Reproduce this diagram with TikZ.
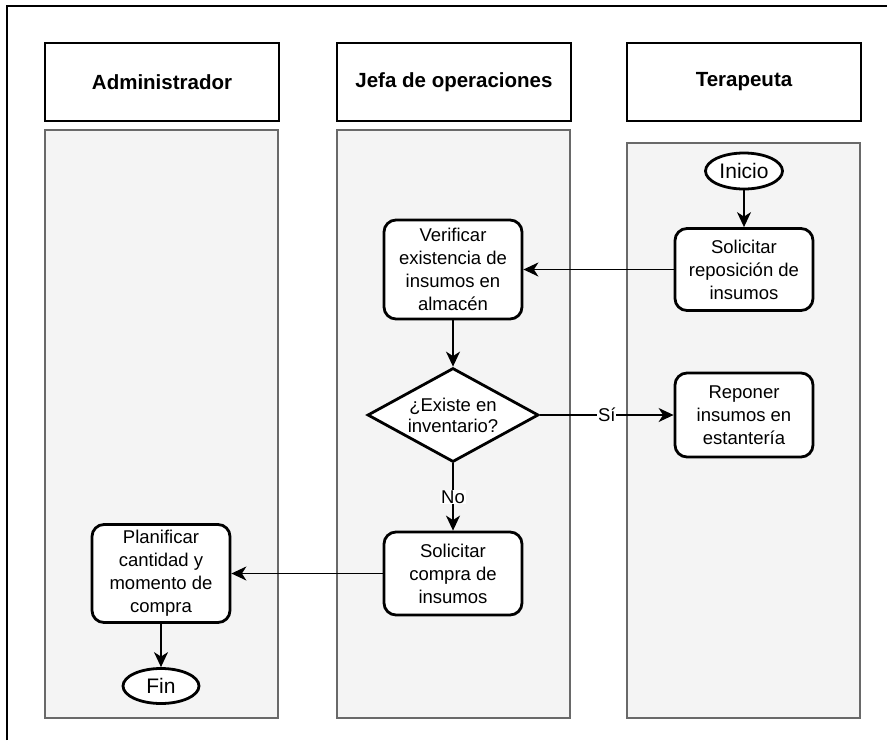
\documentclass[tikz,border=0pt]{standalone}
\usepackage{fontspec}
\setmainfont{Liberation Sans}
\usetikzlibrary{shapes.geometric,arrows.meta}
\definecolor{lanefill}{RGB}{244,244,244}
\definecolor{lanedraw}{RGB}{105,105,105}
\begin{document}
\begin{tikzpicture}[x=1pt,y=-1pt,
  lane/.style={draw=lanedraw, fill=lanefill, line width=1.5pt},
  header/.style={draw=black, fill=white, line width=1.6pt, minimum width=234pt, minimum height=78pt,
    font=\fontsize{20.5}{24}\selectfont\bfseries, inner sep=0pt},
  proc/.style={draw=black, fill=white, line width=2.8pt, rounded corners=12pt, minimum width=138pt,
    align=center, font=\fontsize{18.5}{23}\selectfont, inner sep=0pt},
  term/.style={draw=black, ellipse, fill=white, line width=2.8pt, inner sep=0pt,
    minimum width=77pt, minimum height=36pt, font=\fontsize{21}{24}\selectfont},
  dec/.style={draw=black, diamond, fill=white, line width=2.8pt, inner sep=0pt, aspect=1.82,
    minimum width=171pt, minimum height=94pt, align=center, font=\fontsize{18.5}{21}\selectfont},
  flow/.style={-{Stealth[length=15pt,width=14pt,inset=4.5pt]}, line width=1.6pt},
  lbl/.style={fill=white, inner sep=1pt, font=\fontsize{18.5}{22}\selectfont}
]
\useasboundingbox (0,0) rectangle (887,740);
% frame
\draw[line width=1.5pt] (7,740) -- (7,6) -- (887,6);
% lanes
\draw[lane] (45,130) rectangle (278,718);
\draw[lane] (337,130) rectangle (570,718);
\draw[lane] (627,143) rectangle (860,718);
% headers
\node[header] (hA) at (162,82) {Administrador};
\node[header] (hJ) at (454,82) {Jefa de operaciones};
\node[header] (hT) at (744,82) {Terapeuta};
% nodes
\node[term] (ini) at (744,171) {Inicio};
\node[proc, minimum height=82pt] (solrep) at (744,269.5) {Solicitar\\reposición de\\insumos};
\node[proc, minimum height=99pt] (verif) at (453,269.5) {Verificar\\existencia de\\insumos en\\almacén};
\node[dec] (dec) at (453,415) {¿Existe en\\inventario?};
\node[proc, minimum height=84pt] (repo) at (744,415) {Reponer\\insumos en\\estantería};
\node[proc, minimum height=83pt] (solcom) at (453,573.5) {Solicitar\\compra de\\insumos};
\node[proc, minimum height=98pt] (plan) at (161,573.5) {Planificar\\cantidad y\\momento de\\compra};
\node[term, minimum width=76pt, minimum height=35pt] (fin) at (161,686) {Fin};
% connectors
\draw[flow] (ini) -- (solrep);
\draw[flow] (solrep) -- (verif);
\draw[flow] (verif) -- (dec);
\draw[flow] (dec) -- node[lbl] {Sí} (repo);
\draw[flow] (dec) -- node[lbl] {No} (solcom);
\draw[flow] (solcom) -- (plan);
\draw[flow] (plan) -- (fin);
\end{tikzpicture}
\end{document}
